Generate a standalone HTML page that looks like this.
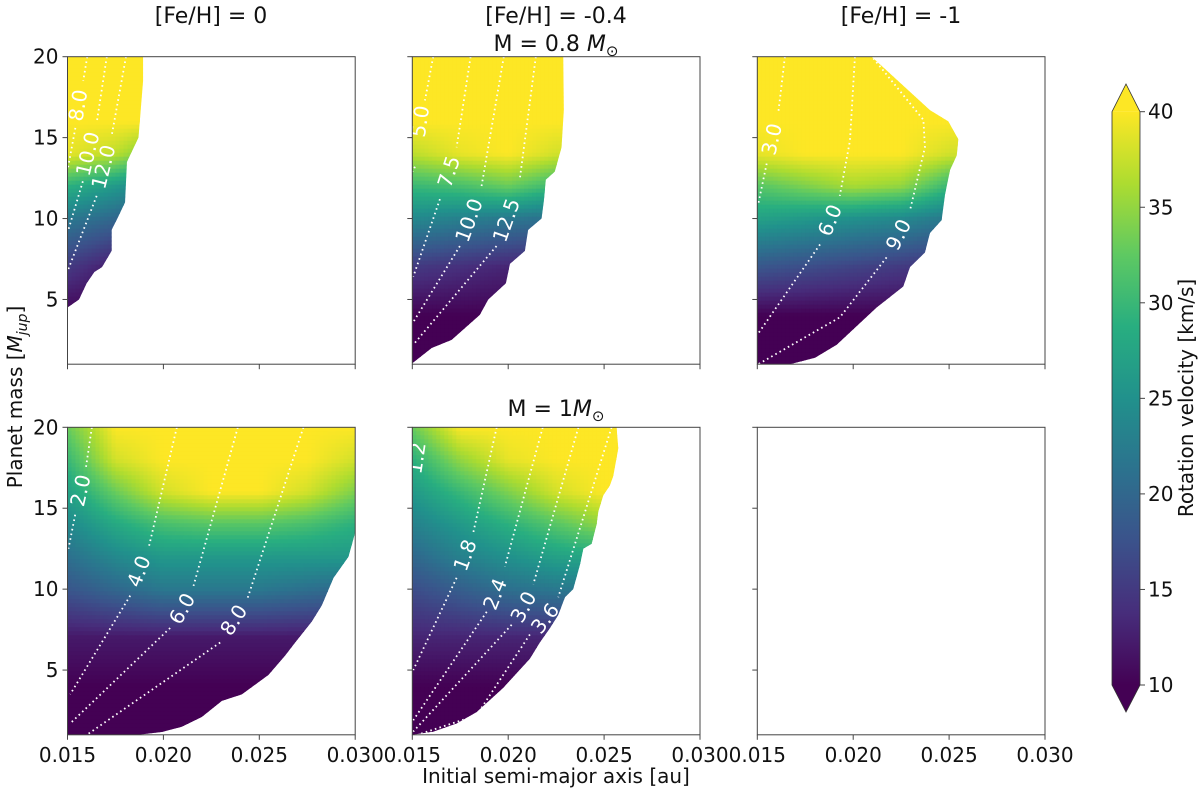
<!DOCTYPE html>
<html><head><meta charset="utf-8">
<style>
body{margin:0;background:#fff;}
svg{display:block;font-family:"DejaVu Sans","Liberation Sans",sans-serif;}
</style></head>
<body>
<svg id="fig" width="1200" height="791" viewBox="0 0 1200 791" xmlns="http://www.w3.org/2000/svg">
<defs id="defs"></defs>
<g id="heat"></g>
<g id="contours"></g>
<g id="axes"></g>
<g id="cbar"></g>
</svg>
<script>
// ---- data ----
const gridMass = [1,4,7,10,12,14,16,18,20];
const gridA = [0.015,0.0175,0.020,0.0225,0.025,0.0275,0.030];
const vel1 = [[10,10,10,10,10,10,10],[10,10,10,10,10,10,10],[15,12,10,10,10,10,10],[22,20,16,16,16,16,16],[29,26,22,22,22,22,22],[39,37,32,32,32,32,32],[40,40,40,40,40,40,40],[40,40,40,40,40,40,40],[40,40,40,40,40,40,40]];
const vel2 = [[10,10,10,10,10,10,10],[10,10,10,10,10,10,10],[15,14,13,12,12,12,12],[24,23,22,21,21,21,21],[30,31,33,30,30,30,30],[37,39,40,38,38,38,38],[40,40,40,40,40,40,40],[40,40,40,40,40,40,40],[40,40,40,40,40,40,40]];
const vel3 = [[10,10,10,10,10,10,10],[10,10,10,10,10,10,10],[18,17,16,15,14,14,14],[27,26,25,24,22,22,22],[32,34,36,35,30,30,30],[39,40,40,40,38,38,38],[40,40,40,40,40,40,40],[40,40,40,40,40,40,40],[40,40,40,40,40,40,40]];
const vel4 = [[10,10,10,10,10,10,10],[10,10,10,10,10,10,10],[12,12,12,12,12,12,12],[18,20,22,22,22,21,20],[21,24,26,26,26,26,26],[24,28,31,32,32,31,29],[27,33,38,40,40,38,34],[30,38,40,40,40,40,38],[33,40,40,40,40,40,40]];
const vel5 = [[10,10,10,10,10,10,10],[10,10,10,10,10,10,10],[13,13,13,13,13,13,13],[17,19,21,22,22,22,22],[20,23,25,27,28,28,28],[23,26,29,32,35,35,35],[26,30,34,38,40,40,40],[29,35,39,40,40,40,40],[33,40,40,40,40,40,40]];
// boundaries: [mass, max semi-major axis]
const bound1 = [[20,0.01894],[18.5,0.01894],[15,0.0187],[13.5,0.0181],[11,0.0180],[10,0.0176],[9.3,0.0173],[8,0.0173],[7,0.0168],[6.7,0.0164],[6,0.0160],[5,0.0156],[4.5,0.015]];
const bound2 = [[20,0.02287],[16.7,0.0229],[14.4,0.02278],[12.9,0.02243],[12.4,0.02196],[11.1,0.02186],[10,0.02174],[9.3,0.02104],[8,0.02087],[7.2,0.02009],[6,0.01988],[5,0.01896],[4.05,0.01852],[2.5,0.01705],[2,0.01601],[1.06,0.015]];
const bound3 = [[20,0.02096],[16.7,0.0240],[16,0.02496],[14.9,0.02548],[13.9,0.0254],[13,0.02505],[11.5,0.02479],[9.9,0.02461],[9.1,0.0240],[7.9,0.02374],[7,0.02296],[5.8,0.02261],[4.5,0.02122],[2.2,0.01914],[1.4,0.01801],[1,0.0167]];
const bound4 = [[20,0.030],[13.5,0.030],[12,0.02965],[10.7,0.02887],[9,0.02826],[8,0.02774],[6.7,0.02687],[5.9,0.02635],[4.7,0.02548],[3.5,0.02409],[3.1,0.02305],[2.1,0.022],[1.5,0.02096],[1.17,0.01992],[1,0.0187]];
const bound5 = [[20,0.02565],[18.7,0.02574],[17,0.02548],[16.4,0.0253],[15.8,0.02496],[14.8,0.0247],[14,0.02461],[12.8,0.02435],[12.5,0.02392],[11.5,0.02374],[10,0.02339],[9.5,0.02296],[8.4,0.02261],[7.6,0.02218],[6.7,0.02165],[5.7,0.02113],[3.9,0.01974],[2.4,0.01835],[1.7,0.01731],[1.2,0.0161],[1,0.015]];
// contours: points [a, mass]; label at index lab
const cont1 = [{t:"8.0",p:[[0.01603,20],[0.01582,18.5],[0.01555,17.0],[0.01541,15.6],[0.01502,13.1]],lab:2},
 {t:"10.0",p:[[0.01705,20],[0.01652,15.9],[0.01605,14.0],[0.0158,12.3],[0.01502,9.2]],lab:2},
 {t:"12.0",p:[[0.01805,20],[0.0173,15.1],[0.01687,13.2],[0.01652,11.4],[0.01502,6.8]],lab:2}];
const cont2 = [{t:"5.0",p:[[0.01609,20],[0.01566,17.3],[0.0154,16.0],[0.01514,13.2],[0.01501,12.9]],lab:2},
 {t:"7.5",p:[[0.01804,20],[0.01731,14.4],[0.0169,12.9],[0.01644,11.2],[0.01505,6.4]],lab:2},
 {t:"10.0",p:[[0.01977,20],[0.01861,12.0],[0.01795,9.9],[0.01748,8.3],[0.01505,3.6]],lab:2},
 {t:"12.5",p:[[0.02144,20],[0.0206,12.4],[0.0199,9.9],[0.01939,8.3],[0.01505,2.2]],lab:2}];
const cont3 = [{t:"3.0",p:[[0.01644,20],[0.0161,16.6],[0.01575,14.9],[0.01549,13.4],[0.01505,10.9]],lab:2},
 {t:"6.0",p:[[0.02009,20],[0.01983,14.8],[0.0193,11.4],[0.01878,9.9],[0.01827,8.4],[0.01505,2.9]],lab:3},
 {t:"9.0",p:[[0.02105,19.9],[0.02366,16.1],[0.02374,14.4],[0.02296,10.5],[0.02235,9.0],[0.02174,7.6],[0.01931,3.9],[0.01505,1.0]],lab:4}];
const cont4 = [{t:"2.0",p:[[0.01627,20],[0.01596,17.5],[0.01567,16.1],[0.0154,14.6],[0.01505,12.5]],lab:2},
 {t:"4.0",p:[[0.0207,20],[0.01922,12.5],[0.01871,11.1],[0.01827,9.6],[0.01514,3.5]],lab:2},
 {t:"6.0",p:[[0.02388,20],[0.02157,10.2],[0.02097,8.8],[0.02035,7.6],[0.01514,1.7]],lab:2},
 {t:"8.0",p:[[0.0273,20],[0.02435,9.3],[0.02366,8.1],[0.02296,6.7],[0.01601,1.0]],lab:2}];
const cont5 = [{t:"1.2",p:[[0.01543,20],[0.01522,18.1],[0.01505,17.0]],lab:1},
 {t:"1.8",p:[[0.0194,20],[0.01818,13.5],[0.01775,12.1],[0.01731,10.7],[0.01505,5.0]],lab:2},
 {t:"2.4",p:[[0.0218,20],[0.01983,11.4],[0.01931,9.7],[0.01888,8.6],[0.01505,1.9]],lab:2},
 {t:"3.0",p:[[0.02366,20],[0.02131,10.3],[0.02079,8.9],[0.02018,7.8],[0.01505,1.2]],lab:2},
 {t:"3.6",p:[[0.02539,20],[0.02261,9.5],[0.02192,8.2],[0.02113,7.2],[0.01835,2.2],[0.0154,1.05]],lab:2}];
const xTicks = [0.015,0.020,0.025,0.030];
const xTickLabels = ["0.015","0.020","0.025","0.030"];
const yTicks = [5,10,15,20];
const cbTicks = [10,15,20,25,30,35,40];

// ---- layout ----
const NS="http://www.w3.org/2000/svg";
const colX=[67.5,412.3,757.3], PW=287.7, rowY=[56.7,427.3], PH=307.5;
const A0=0.015,A1=0.030,M0=1,M1=20,V0=10,V1=40;
const panels=[
 {c:0,r:0,vel:vel1,b:bound1,ct:cont1},{c:1,r:0,vel:vel2,b:bound2,ct:cont2},{c:2,r:0,vel:vel3,b:bound3,ct:cont3},
 {c:0,r:1,vel:vel4,b:bound4,ct:cont4},{c:1,r:1,vel:vel5,b:bound5,ct:cont5},{c:2,r:1,vel:null,b:null,ct:null}];
const vir=["#440154","#472d7b","#3b528b","#2c728e","#21918c","#28ae80","#5ec962","#addc30","#fde725"];
function hex(h){return [parseInt(h.slice(1,3),16),parseInt(h.slice(3,5),16),parseInt(h.slice(5,7),16)];}
const virRGB=vir.map(hex);
function cmap(v){let t=(v-V0)/(V1-V0);t=Math.max(0,Math.min(1,t));const f=t*8,i=Math.min(7,Math.floor(f)),u=f-i;
 const a=virRGB[i],b=virRGB[i+1];return "rgb("+a.map((x,k)=>Math.round(x+(b[k]-x)*u)).join(",")+")";}
function xs(p,a){return colX[p.c]+(a-A0)/(A1-A0)*PW;}
function ys(p,m){return rowY[p.r]+(M1-m)/(M1-M0)*PH;}
function el(tag,attrs,parent){const e=document.createElementNS(NS,tag);for(const k in attrs)e.setAttribute(k,attrs[k]);parent.appendChild(e);return e;}
function interp(arr,v){for(let i=0;i<arr.length-1;i++){if(v<=arr[i+1])return [i,(v-arr[i])/(arr[i+1]-arr[i])];}return [arr.length-2,1];}
function sample(g,a,m){const [i,u]=interp(gridMass,Math.max(M0,Math.min(M1,m)));const [j,w]=interp(gridA,Math.max(A0,Math.min(A1,a)));
 const v00=g[i][j],v01=g[i][j+1],v10=g[i+1][j],v11=g[i+1][j+1];return (v00*(1-w)+v01*w)*(1-u)+(v10*(1-w)+v11*w)*u;}

const defs=document.getElementById('defs'),heat=document.getElementById('heat'),cont=document.getElementById('contours'),axes=document.getElementById('axes');
panels.forEach((p,pi)=>{
 if(!p.vel)return;
 const cp=el('clipPath',{id:'clip'+pi},defs);
 let pts=p.b.map(d=>xs(p,d[1])+","+ys(p,d[0]));
 pts.push(xs(p,A0)+","+ys(p,p.b[p.b.length-1][0]));
 pts.push(xs(p,A0)+","+ys(p,M1));
 el('polygon',{points:pts.join(" ")},cp);
 const g=el('g',{'clip-path':'url(#clip'+pi+')'},heat);
 
 
 const step=4;
 for(let py=0;py<PH;py+=step){for(let px=0;px<PW;px+=step){
   const a=A0+(px+step/2)/PW*(A1-A0), m=M1-(py+step/2)/PH*(M1-M0);
   const r=el('rect',{x:(colX[p.c]+px).toFixed(1),y:(rowY[p.r]+py).toFixed(1),width:step+0.6,height:step+0.6,fill:cmap(sample(p.vel,a,m))},g);
   
   
 }}
 const cg=el('g',{'clip-path':'url(#clip'+pi+')'},cont);
 const lg=el('g',{},cont);
 p.ct.forEach(c=>{
   const P=c.p.map(d=>[xs(p,d[0]),ys(p,d[1])]);
   const L=P[c.lab];
   const seg1=P.slice(0,c.lab), seg2=P.slice(c.lab+1);
   [seg1,seg2].forEach(s=>{ if(s.length<1)return;
     const pl=el('polyline',{points:s.map(q=>q.join(",")).join(" "),fill:"none",stroke:"#fff","stroke-width":1.8,"stroke-dasharray":"1.6 3.2"},cg);
     
     
   });
   const up=P[c.lab-1], dn=P[c.lab+1]||L;
   const ang=Math.atan2(up[1]-dn[1],up[0]-dn[0])*180/Math.PI;
   const t=el('text',{x:L[0].toFixed(1),y:L[1].toFixed(1),fill:"#fff","font-size":20,"text-anchor":"middle","dominant-baseline":"central",transform:"rotate("+ang.toFixed(1)+" "+L[0].toFixed(1)+" "+L[1].toFixed(1)+")"},lg);
   t.textContent=c.t;
   
   
 });
});
// axes frames and ticks
panels.forEach((p,pi)=>{
 const x0=colX[p.c],y0=rowY[p.r];
 const f=el('rect',{x:x0,y:y0,width:PW,height:PH,fill:"none",stroke:"#444","stroke-width":1},axes);
 
 
 xTicks.forEach((v,i)=>{const x=xs(p,v);
   const t=el('line',{x1:x,x2:x,y1:y0+PH,y2:y0+PH+5,stroke:"#444"},axes);
   
   
   if(p.r===1){const tx=el('text',{x:x,y:y0+PH+27,"font-size":20,"text-anchor":"middle",fill:"#111"},axes);tx.textContent=xTickLabels[i];
     
     }
 });
 yTicks.forEach(v=>{const y=ys(p,v);
   const t=el('line',{x1:x0-5,x2:x0,y1:y,y2:y,stroke:"#444"},axes);
   
   
   if(p.c===0){const tx=el('text',{x:x0-9,y:y+7,"font-size":20,"text-anchor":"end",fill:"#111"},axes);tx.textContent=v;
     
     }
 });
});
// colorbar
const cb=document.getElementById('cbar');
const cbX=1112,cbW=28,cbTop=111.7,cbBot=685;
function cy(v){return cbBot-(v-V0)/(V1-V0)*(cbBot-cbTop);}
const lgd=el('linearGradient',{id:'cbg',x1:0,y1:1,x2:0,y2:0},defs);
vir.forEach((c,i)=>el('stop',{offset:(i/8),"stop-color":c},lgd));
const cbr=el('rect',{x:cbX,y:cbTop,width:cbW,height:cbBot-cbTop,fill:"url(#cbg)"},cb);


const tri1=el('polygon',{points:`${cbX},${cbTop} ${cbX+cbW/2},84 ${cbX+cbW},${cbTop}`,fill:vir[8]},cb);


const tri2=el('polygon',{points:`${cbX},${cbBot} ${cbX+cbW/2},712 ${cbX+cbW},${cbBot}`,fill:vir[0]},cb);


el('polygon',{points:`${cbX},${cbBot} ${cbX},${cbTop} ${cbX+cbW/2},84 ${cbX+cbW},${cbTop} ${cbX+cbW},${cbBot} ${cbX+cbW/2},712`,fill:"none",stroke:"#333","stroke-width":0.8},cb);
cbTicks.forEach(v=>{const y=cy(v);
 const t=el('line',{x1:cbX+cbW,x2:cbX+cbW+5,y1:y,y2:y,stroke:"#444"},cb);
 
 
 const tx=el('text',{x:cbX+cbW+8,y:y+7,"font-size":20,fill:"#111"},cb);tx.textContent=v;
 
 
});
</script>
<svg style="position:absolute;left:0;top:0" width="1200" height="791">
<g font-family="DejaVu Sans, Liberation Sans, sans-serif" fill="#111">
<text x="211" y="23" font-size="22" text-anchor="middle">[Fe/H] = 0</text>
<text x="556" y="23" font-size="22" text-anchor="middle">[Fe/H] = -0.4</text>
<text x="556" y="51" font-size="22" text-anchor="middle">M = 0.8 <tspan font-style="italic">M</tspan><tspan font-size="15" dy="5">⊙</tspan></text>
<text x="901" y="23" font-size="22" text-anchor="middle">[Fe/H] = -1</text>
<text x="556" y="416" font-size="22" text-anchor="middle">M = 1<tspan font-style="italic">M</tspan><tspan font-size="15" dy="5">⊙</tspan></text>
<text x="556" y="783" font-size="20" text-anchor="middle">Initial semi-major axis [au]</text>
<text x="0" y="0" font-size="20" text-anchor="middle" transform="translate(22,397) rotate(-90)">Planet mass [<tspan font-style="italic">M</tspan><tspan font-style="italic" font-size="14" dy="5">jup</tspan><tspan dy="-5">]</tspan></text>
<text x="0" y="0" font-size="20" text-anchor="middle" transform="translate(1193,398) rotate(-90)">Rotation velocity [km/s]</text>
</g>
</svg>
</body></html>
